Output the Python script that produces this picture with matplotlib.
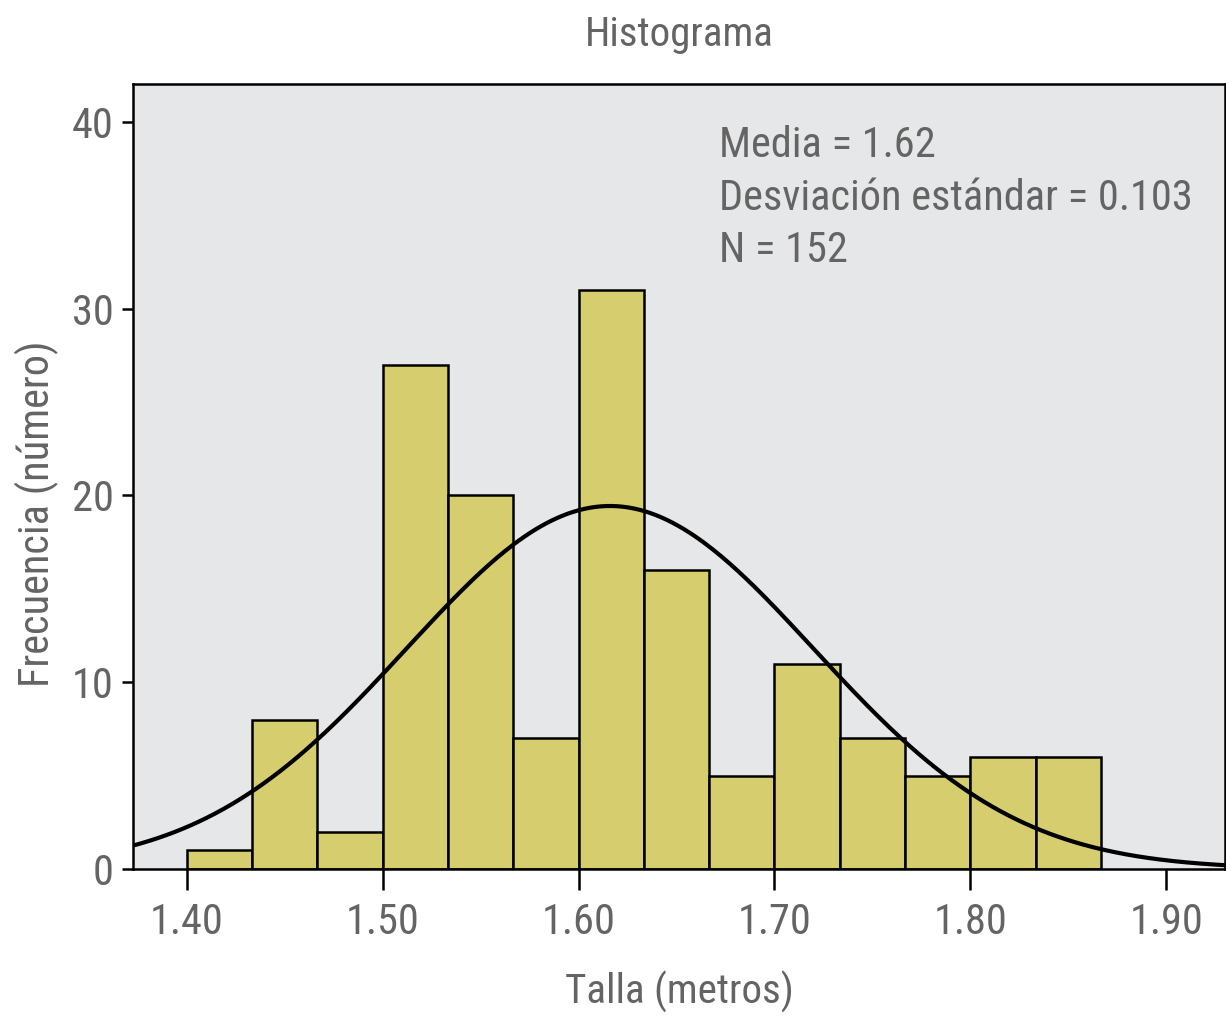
import numpy as np
import matplotlib
matplotlib.use('Agg')
import matplotlib.pyplot as plt

plt.rcParams['font.family'] = ['Roboto Condensed', 'Liberation Sans Narrow',
                               'Arial Narrow', 'Roboto', 'DejaVu Sans']

# datos del histograma
bin_edges = [1.40 + i / 30 for i in range(15)]
counts = [1, 8, 2, 27, 20, 7, 31, 16, 5, 11, 7, 5, 6, 6]
media = 1.616
desv = 0.104
n = 152
xticks = [1.40, 1.50, 1.60, 1.70, 1.80, 1.90]
xticklabels = ['1.40', '1.50', '1.60', '1.70', '1.80', '1.90']
yticks = [0, 10, 20, 30, 40]

gray = '#646464'
fig = plt.figure(figsize=(12.26, 10.24), dpi=100)
ax = fig.add_axes([133/1226, 155/1024, 1092/1226, 785/1024])
ax.set_facecolor('#e6e7e9')

widths = np.diff(bin_edges)
ax.bar(bin_edges[:-1], counts, width=widths, align='edge',
       color='#d5cd6e', edgecolor='black', linewidth=1.8)

x = np.linspace(1.3725, 1.93, 400)
binw = widths[0]
y = n * binw / (desv * np.sqrt(2 * np.pi)) * np.exp(-0.5 * ((x - media) / desv) ** 2)
ax.plot(x, y, color='black', lw=3.0)

ax.set_xlim(1.3725, 1.93)
ax.set_ylim(0, 42.03)
ax.set_xticks(xticks)
ax.set_xticklabels(xticklabels)
ax.set_yticks(yticks)
ax.tick_params(axis='x', length=15, width=1.8, colors='black', labelcolor=gray,
               labelsize=30.5, pad=9)
ax.tick_params(axis='y', length=8, width=1.8, colors='black', labelcolor=gray,
               labelsize=30.5, pad=6)
for s in ax.spines.values():
    s.set_linewidth(1.8)

ax.set_xlabel('Talla (metros)', fontsize=29.5, color=gray, labelpad=20)
ax.set_ylabel('Frecuencia (número)', fontsize=30.5, color=gray)
ax.yaxis.set_label_coords(-0.068, 0.452)
ax.set_title('Histograma', fontsize=29.5, color=gray, pad=27)

txt = 'Media = 1.62\nDesviación estándar = 0.103\nN = 152'
ax.text(0.537, 0.948, txt, transform=ax.transAxes, fontsize=30.5, color=gray,
        va='top', ha='left', linespacing=1.37)

fig.savefig('out.png', dpi=100)
